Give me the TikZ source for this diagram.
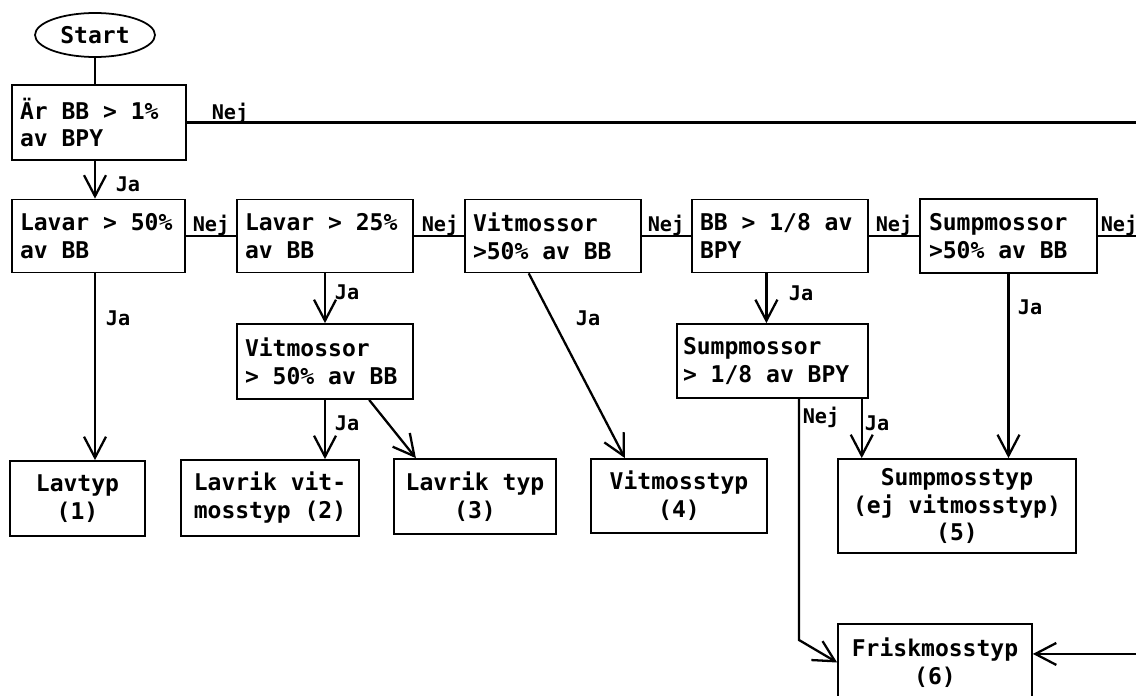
\documentclass[tikz,border=0pt]{standalone}
\usepackage{fontspec}
\setmainfont{DejaVu Sans Mono}
\usetikzlibrary{arrows.meta,shapes.geometric}
\newcommand{\boxfont}{\fontsize{13.1}{15.9}\selectfont\bfseries}
\newcommand{\lblfont}{\fontsize{11.5}{13}\selectfont\bfseries}
\newcommand{\fixsp}{\spaceskip=\fontdimen2\font\xspaceskip=\fontdimen2\font\relax}
\tikzset{
  dbox/.style={draw, line width=1pt, rectangle, inner ysep=0pt, inner xsep=0.16cm, font=\boxfont, align=flush left, execute at begin node=\fixsp},
  rbox/.style={draw, line width=1pt, rectangle, inner sep=0pt, font=\boxfont, align=center},
  lbl/.style={inner sep=0pt, font=\lblfont},
  conn/.style={line width=1.3pt},
  arr/.style={line width=1.3pt, -{Straight Barb[length=0.42cm, width=0.44cm]}}
}
\begin{document}
\begin{tikzpicture}[x=0.02cm, y=-0.02cm]
\useasboundingbox (0,0) rectangle (1136,696);
\clip (0,0) rectangle (1136,696);
\fill[white] (0,0) rectangle (1136,696);

% start
\node[ellipse, draw, line width=1pt, minimum width=2.4cm, minimum height=0.88cm, inner sep=0pt, font=\boxfont] (start) at (95,35) {Start};

% decision boxes
\node[dbox, text width=3.16cm, minimum height=1.5cm] (b0) at (99,122.5) {Är BB > 1\%\\av BPY};
\node[dbox, text width=3.14cm, minimum height=1.46cm] (l50) at (98.5,236) {Lavar > 50\%\\av BB};
\node[dbox, text width=3.2cm, minimum height=1.46cm] (l25) at (325,236) {Lavar > 25\%\\av BB};
\node[dbox, text width=3.2cm, minimum height=1.46cm] (v50) at (553,236) {Vitmossor\\>50\% av BB};
\node[dbox, text width=3.2cm, minimum height=1.46cm] (bb) at (780,236) {BB > 1/8 av\\BPY};
\node[dbox, text width=3.18cm, minimum height=1.48cm, inner xsep=0.18cm] (s50) at (1008.5,236) {Sumpmossor\\>50\% av BB};
\node[dbox, text width=3.2cm, minimum height=1.5cm] (v2) at (325,361.5) {Vitmossor\\> 50\% av BB};
\node[dbox, text width=3.58cm, minimum height=1.48cm, inner xsep=0.12cm] (s18) at (772.5,361) {Sumpmossor\\> 1/8 av BPY};

% result boxes
\node[rbox, minimum width=2.7cm, minimum height=1.5cm] (lavtyp) at (77.5,498.5) {Lavtyp\\(1)};
\node[rbox, minimum width=3.56cm, minimum height=1.52cm] (lvit) at (270,498) {Lavrik vit-\\mosstyp (2)};
\node[rbox, minimum width=3.24cm, minimum height=1.5cm] (ltyp) at (475,496.5) {Lavrik typ\\(3)};
\node[rbox, minimum width=3.52cm, minimum height=1.48cm] (vtyp) at (679,496) {Vitmosstyp\\(4)};
\node[rbox, minimum width=4.76cm, minimum height=1.88cm] (styp) at (957,506) {Sumpmosstyp\\(ej vitmosstyp)\\(5)};
\node[rbox, minimum width=3.88cm, minimum height=1.54cm] (frisk) at (935,662.5) {Friskmosstyp\\(6)};

% helper coordinates
\coordinate (rx) at (1165,0);
\coordinate (nk) at (798,640);

% connectors
\draw[conn] (start.south) -- (start.south |- b0.north);
\draw[arr] (b0.south -| start.south) -- (l50.north -| start.south);
\draw[arr] (b0.east) -- (b0.east -| rx) -- (rx |- frisk.5) -- (frisk.5);
\draw[conn] (l50.east) -- (l25.west);
\draw[conn] (l25.east) -- (v50.west);
\draw[conn] (v50.east) -- (bb.west);
\draw[conn] (bb.east) -- (s50.west);
\draw[conn] (s50.east) -- (s50.east -| rx);
\draw[arr] (l50.south -| start.south) -- (lavtyp.north -| start.south);
\draw[arr] (l25.south) -- (v2.north);
\draw[arr] (v2.south) -- (v2.south |- lvit.north);
\draw[arr] (v2.-41) -- (ltyp.147);
\draw[arr] (v50.-123) -- (vtyp.145);
\draw[arr] (bb.-110) -- (bb.-110 |- s18.north);
\draw[arr] (s18.-23) -- (s18.-23 |- styp.north);
\draw[arr] (s18.-55) -- (s18.-55 |- nk) -- (frisk.west);
\draw[arr] (s50.south) -- (s50.south |- styp.north);

% labels
\node[lbl] (nej0) at (230,113) {Nej};
\node[lbl] (ja0) at (128,184) {Ja};
\node[lbl] (nej1) at (211,225) {Nej};
\node[lbl] (nej2) at (440,225) {Nej};
\node[lbl] (nej3) at (666,225) {Nej};
\node[lbl] (nej4) at (894,225) {Nej};
\node[lbl] (nej5) at (1119,225) {Nej};
\node[lbl] (ja1) at (118,318) {Ja};
\node[lbl] (ja2) at (347,292) {Ja};
\node[lbl] (ja3) at (347,423) {Ja};
\node[lbl] (ja4) at (588,318) {Ja};
\node[lbl] (ja5) at (801,293) {Ja};
\node[lbl] (ja6) at (1030,307) {Ja};
\node[lbl] (nej6) at (821,417) {Nej};
\node[lbl] (ja7) at (877,423) {Ja};
\end{tikzpicture}
\end{document}
